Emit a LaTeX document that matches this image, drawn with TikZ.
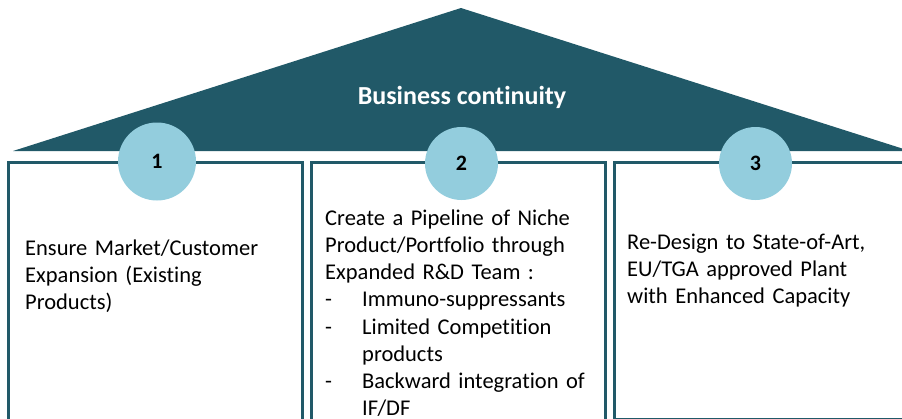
\documentclass[tikz,border=0pt]{standalone}
\usepackage{fontspec}
\setmainfont{Carlito}[Ligatures=NoCommon]
\definecolor{teal}{HTML}{215968}
\definecolor{lightblue}{HTML}{93CDDD}
\tikzset{
  pillar/.style={draw=teal, line width=3pt, fill=white},
  badge/.style={circle, fill=lightblue, inner sep=0pt, font={\fontsize{22}{26}\selectfont\bfseries}, text=black},
  bodytext/.style={anchor=north west, inner sep=0pt, align=left, font={\fontsize{22.5}{27.2}\selectfont}, text=black},
}
\begin{document}
\begin{tikzpicture}[x=1pt,y=-1pt]
\useasboundingbox (0,0) rectangle (902,418);
\clip (0,0) rectangle (902,418);
% roof
\fill[teal] (13,151) coordinate (rl) -- (461,8) coordinate (ra) -- (910,151) coordinate (rr) -- cycle;
\node[anchor=base, text=white, font={\fontsize{26}{30}\selectfont\bfseries}, inner sep=0pt] (title) at (462,104) {Business continuity};
% pillars
\draw[pillar] (8.5,425) rectangle (302.5,162.5);
\draw[pillar] (311.5,425) rectangle (605.5,162.5);
\draw[pillar] (614.5,419.5) rectangle (915,162.5);
% badges
\node[badge, minimum size=78pt] (b1) at (157,161.5) {1};
\node[badge, minimum size=73pt] (b2) at (461.5,163.5) {2};
\node[badge, minimum size=73pt] (b3) at (755.5,163.5) {3};
% texts
\node[bodytext, text width=270pt] (t1) at (25,236) {\strut Ensure Market/Customer\\Expansion (Existing\\Products)};
\node[bodytext, text width=275pt] (t2) at (325,206) {\strut Create a Pipeline of Niche\\Product/Portfolio through\\Expanded R\&D Team :\\\makebox[37pt][l]{-}Immuno-suppressants\\\makebox[37pt][l]{-}Limited Competition\\\hspace*{37pt}products\\\makebox[37pt][l]{-}Backward integration of\\\hspace*{37pt}IF/DF};
\node[bodytext, text width=270pt] (t3) at (627,230) {\strut Re-Design to State-of-Art,\\EU/TGA approved Plant\\with Enhanced Capacity};
\end{tikzpicture}
\end{document}
